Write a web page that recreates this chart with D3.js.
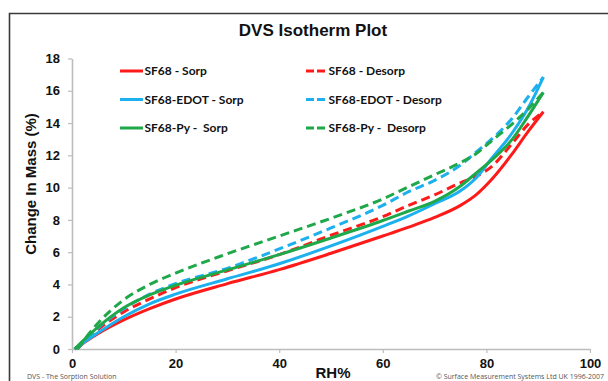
<!DOCTYPE html>
<html>
<head>
<meta charset="utf-8">
<script src="https://cdn.jsdelivr.net/npm/d3@7"></script>
<style>
  html, body { margin: 0; padding: 0; background: #fff; }
  svg { display: block; }
</style>
</head>
<body>
<svg id="chart" width="608" height="381"></svg>
<script>
// Relative humidity steps (%) for the sorption (rising) and desorption (falling) legs
const sorpRH = [0.5, 5, 10, 15, 20, 30, 40, 50, 60, 65, 70, 75, 78, 81, 85, 88, 91];
const desorpRH = [91, 88, 85, 81, 78, 75, 70, 65, 60, 50, 40, 30, 20, 15, 10, 5, 1];

// Change in mass (%) for each sample
const sf68Sorp     = [0, 0.95, 1.8, 2.5, 3.1, 4.05, 4.92, 5.93, 7.0, 7.55, 8.15, 8.9, 9.55, 10.5, 12.1, 13.45, 14.7];
const sf68Desorp   = [14.7, 13.9, 12.75, 11.3, 10.7, 10.3, 9.55, 8.9, 8.2, 7.05, 5.85, 4.85, 3.8, 3.1, 2.3, 1.2, 0];
const edotSorp     = [0, 1.0, 2.0, 2.8, 3.4, 4.35, 5.28, 6.39, 7.6, 8.25, 9.0, 9.8, 10.6, 11.8, 13.4, 14.9, 16.85];
const edotDesorp   = [16.85, 15.6, 14.3, 13.0, 12.2, 11.4, 10.45, 9.75, 8.9, 7.5, 6.2, 5.0, 4.05, 3.4, 2.5, 1.3, 0];
const pySorp       = [0, 1.35, 2.55, 3.35, 3.95, 4.9, 5.85, 6.88, 7.96, 8.55, 9.15, 10.1, 10.9, 11.7, 13.0, 14.4, 15.9];
const pyDesorp     = [15.9, 14.85, 13.95, 12.9, 12.1, 11.55, 10.8, 10.05, 9.3, 8.1, 7.0, 5.9, 4.7, 4.0, 3.05, 1.6, 0];

const seriesNames = ["SF68 - Sorp", "SF68 - Desorp", "SF68-EDOT - Sorp", "SF68-EDOT - Desorp", "SF68-Py -  Sorp", "SF68-Py -  Desorp"];

const xTicks = [0, 20, 40, 60, 80, 100];
const yTicks = [0, 2, 4, 6, 8, 10, 12, 14, 16, 18];

const RED = "#ff1a1a", BLUE = "#1cb0ee", GREEN = "#1fa84a";

const series = [
  { name: seriesNames[0], rh: sorpRH,   v: sf68Sorp,   color: RED,   dashed: false },
  { name: seriesNames[1], rh: desorpRH, v: sf68Desorp, color: RED,   dashed: true },
  { name: seriesNames[2], rh: sorpRH,   v: edotSorp,   color: BLUE,  dashed: false },
  { name: seriesNames[3], rh: desorpRH, v: edotDesorp, color: BLUE,  dashed: true },
  { name: seriesNames[4], rh: sorpRH,   v: pySorp,     color: GREEN, dashed: false },
  { name: seriesNames[5], rh: desorpRH, v: pyDesorp,   color: GREEN, dashed: true }
];

const svg = d3.select("#chart");
const W = 608, H = 381;
const DASH = "9,5";

// outer frame (top and left edges visible)
svg.append("path")
  .attr("d", `M9.5,${H + 5}V13.5H${W + 5}`)
  .attr("fill", "none").attr("stroke", "#3a3a3a").attr("stroke-width", 1.6);

const x = d3.scaleLinear().domain([0, 100]).range([72, 590]);
const y = d3.scaleLinear().domain([0, 18]).range([349, 58.5]);

const axisColor = "#bdbdbd";
const tickFont = "bold 13px 'Liberation Sans', Arial, sans-serif";

// x axis
const gx = svg.append("g").attr("transform", `translate(0,${y(0)})`)
  .call(d3.axisBottom(x).tickValues(xTicks).tickSize(4).tickSizeOuter(0).tickPadding(6));
// y axis
const gy = svg.append("g").attr("transform", `translate(${x(0)},0)`)
  .call(d3.axisLeft(y).tickValues(yTicks).tickSize(4).tickSizeOuter(0).tickPadding(8));

[gx, gy].forEach(g => {
  g.select(".domain").attr("stroke", axisColor).attr("stroke-width", 1.6);
  g.selectAll(".tick line").attr("stroke", axisColor).attr("stroke-width", 1.2);
  g.selectAll(".tick text").attr("fill", "#111").style("font", tickFont);
});

// series curves (points ordered by RH so the monotone curve stays smooth)
const line = d3.line()
  .x(d => x(d[0]))
  .y(d => y(d[1]))
  .curve(d3.curveMonotoneX);

series.forEach(s => {
  const pts = s.rh.map((r, i) => [r, s.v[i]]).sort((a, b) => a[0] - b[0]);
  svg.append("path")
    .datum(pts)
    .attr("d", line)
    .attr("fill", "none")
    .attr("stroke", s.color)
    .attr("stroke-width", 3)
    .attr("stroke-linecap", "butt")
    .attr("stroke-linejoin", "round")
    .attr("stroke-dasharray", s.dashed ? DASH : null);
});

// legend: solid sorption entries on the left column, dashed desorption on the right
const legendFont = "bold 12px Lato, 'Open Sans', sans-serif";
const rowY = [71, 99.5, 128];
series.forEach((s, i) => {
  const col = s.dashed ? 1 : 0;
  const row = Math.floor(i / 2);
  const lx0 = col ? 306 : 120;
  const lx1 = col ? 327 : 143;
  const g = svg.append("g");
  g.append("line")
    .attr("x1", lx0).attr("x2", lx1).attr("y1", rowY[row]).attr("y2", rowY[row])
    .attr("stroke", s.color).attr("stroke-width", 3)
    .attr("stroke-dasharray", s.dashed ? "8,3" : null);
  g.append("text")
    .attr("x", lx1 + 1.5).attr("y", rowY[row] + 4.2)
    .attr("fill", "#111")
    .style("font", legendFont)
    .style("white-space", "pre")
    .text(s.name);
});

// titles
svg.append("text")
  .attr("x", 313).attr("y", 36)
  .attr("text-anchor", "middle")
  .style("font", "bold 17px 'Liberation Sans', Arial, sans-serif")
  .attr("fill", "#111")
  .text("DVS Isotherm Plot");

svg.append("text")
  .attr("transform", `translate(36,${184}) rotate(-90)`)
  .attr("text-anchor", "middle")
  .style("font", "bold 15px 'Liberation Sans', Arial, sans-serif")
  .attr("fill", "#111")
  .text("Change In Mass (%)");

svg.append("text")
  .attr("x", 333).attr("y", 378)
  .attr("text-anchor", "middle")
  .style("font", "bold 15px 'Liberation Sans', Arial, sans-serif")
  .attr("fill", "#111")
  .text("RH%");

// footer notes
const footFont = "7px 'Open Sans', sans-serif";
svg.append("text")
  .attr("x", 27).attr("y", 379)
  .style("font", footFont).attr("fill", "#555")
  .text("DVS - The Sorption Solution");
svg.append("text")
  .attr("x", 604).attr("y", 379)
  .attr("text-anchor", "end")
  .style("font", footFont).attr("fill", "#555")
  .text("© Surface Measurement Systems Ltd UK 1996-2007");
</script>
</body>
</html>
